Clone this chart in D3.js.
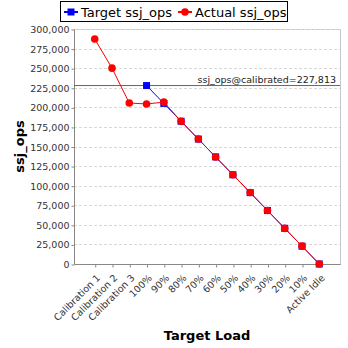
<!DOCTYPE html>
<html>
<head>
<meta charset="utf-8">
<script src="https://cdn.jsdelivr.net/npm/d3@7"></script>
<style>
  html, body { margin: 0; padding: 0; background: #fff; }
  svg { display: block; font-family: "DejaVu Sans", sans-serif; }
</style>
</head>
<body>
<svg id="chart" width="348" height="348"></svg>
<script>
// Load levels along the x axis
const categories = ["Calibration 1", "Calibration 2", "Calibration 3", "100%", "90%", "80%", "70%", "60%", "50%", "40%", "30%", "20%", "10%", "Active Idle"];
// Target throughput (only defined for the graduated load levels)
const targetOps = [null, null, null, 227813, 205032, 182250, 159469, 136688, 113907, 91125, 68344, 45563, 22781, 0];
// Measured throughput
const actualOps = [287200, 250000, 205500, 204300, 206600, 182100, 159500, 136600, 114000, 91200, 68300, 45500, 22800, 0];
const calibrated = 227813;
const yTicks = [0, 25000, 50000, 75000, 100000, 125000, 150000, 175000, 200000, 225000, 250000, 275000, 300000];

const svg = d3.select("#chart");
const plot = { left: 74, right: 340, top: 29, bottom: 264 };
const fmt = d3.format(",");

const x = d3.scalePoint().domain(categories).range([plot.left, plot.right]).padding(1.2);
const y = d3.scaleLinear().domain([0, 300000]).range([plot.bottom, plot.top]);

// plot background and frame
svg.append("rect")
  .attr("x", plot.left + 0.5).attr("y", plot.top + 0.5)
  .attr("width", plot.right - plot.left).attr("height", plot.bottom - plot.top)
  .attr("fill", "#fff").attr("stroke", "#c8c8c8");

// horizontal grid
svg.append("g").selectAll("line").data(yTicks.filter(d => d > 0)).join("line")
  .attr("x1", plot.left).attr("x2", plot.right)
  .attr("y1", d => Math.round(y(d)) + 0.5).attr("y2", d => Math.round(y(d)) + 0.5)
  .attr("stroke", "#d8d8d8").attr("stroke-dasharray", "3,2");

// y axis
const yAxis = svg.append("g").attr("transform", `translate(${plot.left + 0.5},0.5)`)
  .call(d3.axisLeft(y).tickValues(yTicks).tickFormat(fmt).tickSize(3).tickPadding(2));
yAxis.select(".domain").attr("stroke", "#888").attr("d", `M-0,${plot.top}V${plot.bottom}`);
yAxis.selectAll(".tick line").attr("stroke", "#888");
yAxis.selectAll("text").attr("font-size", 9.5).attr("fill", "#333").attr("font-family", "DejaVu Sans, sans-serif");

// x axis
const xAxis = svg.append("g").attr("transform", `translate(0.5,${plot.bottom + 0.5})`)
  .call(d3.axisBottom(x).tickSize(3).tickPadding(2));
xAxis.select(".domain").attr("stroke", "#888").attr("d", `M${plot.left},0H${plot.right}`);
xAxis.selectAll(".tick line").attr("stroke", "#888");
xAxis.selectAll("text")
  .attr("font-size", 9.5).attr("fill", "#333").attr("font-family", "DejaVu Sans, sans-serif")
  .attr("text-anchor", "end").attr("dy", 0).attr("y", 0)
  .attr("transform", "translate(5,14) rotate(-45)");

// calibrated reference line
svg.append("line")
  .attr("x1", plot.left).attr("x2", plot.right)
  .attr("y1", y(calibrated)).attr("y2", y(calibrated))
  .attr("stroke", "#666").attr("stroke-width", 1);
svg.append("text")
  .attr("x", plot.right - 4).attr("y", y(calibrated) - 3)
  .attr("text-anchor", "end").attr("font-size", 9.5).attr("fill", "#222")
  .text("ssj_ops@calibrated=" + fmt(calibrated));

// series
const targetPts = categories.map((c, i) => ({ c, v: targetOps[i] })).filter(d => d.v !== null);
const actualPts = categories.map((c, i) => ({ c, v: actualOps[i] }));
const line = d3.line().x(d => x(d.c)).y(d => y(d.v));

svg.append("path").datum(targetPts).attr("d", line)
  .attr("fill", "none").attr("stroke", "#0000ff").attr("stroke-width", 1);
svg.append("g").selectAll("rect").data(targetPts).join("rect")
  .attr("x", d => x(d.c) - 3.5).attr("y", d => y(d.v) - 3.5)
  .attr("width", 7).attr("height", 7).attr("fill", "#0000ff");

svg.append("path").datum(actualPts).attr("d", line)
  .attr("fill", "none").attr("stroke", "#ff0000").attr("stroke-width", 1);
svg.append("g").selectAll("circle").data(actualPts).join("circle")
  .attr("cx", d => x(d.c)).attr("cy", d => y(d.v)).attr("r", 3.8)
  .attr("fill", "#ff0000");

// axis titles
svg.append("text")
  .attr("transform", `translate(24,${(plot.top + plot.bottom) / 2}) rotate(-90)`)
  .attr("text-anchor", "middle").attr("font-size", 13).attr("font-weight", "bold")
  .text("ssj_ops");
svg.append("text")
  .attr("x", 207).attr("y", 340)
  .attr("text-anchor", "middle").attr("font-size", 13).attr("font-weight", "bold")
  .text("Target Load");

// legend
const legend = svg.append("g");
legend.append("rect").attr("x", 60.5).attr("y", 1.5).attr("width", 227).attr("height", 20)
  .attr("fill", "#fff").attr("stroke", "#000");
const items = [
  { label: "Target ssj_ops", color: "#0000ff", shape: "square", x: 64 },
  { label: "Actual ssj_ops", color: "#ff0000", shape: "circle", x: 178 }
];
items.forEach(it => {
  const g = legend.append("g");
  g.append("line").attr("x1", it.x).attr("x2", it.x + 14).attr("y1", 12).attr("y2", 12)
    .attr("stroke", it.color).attr("stroke-width", 2);
  if (it.shape === "square") {
    g.append("rect").attr("x", it.x + 3.5).attr("y", 8.5).attr("width", 7).attr("height", 7).attr("fill", it.color);
  } else {
    g.append("circle").attr("cx", it.x + 7).attr("cy", 12).attr("r", 3.8).attr("fill", it.color);
  }
  g.append("text").attr("x", it.x + 17).attr("y", 16.5).attr("font-size", 13).attr("fill", "#000").text(it.label);
});
</script>
</body>
</html>
